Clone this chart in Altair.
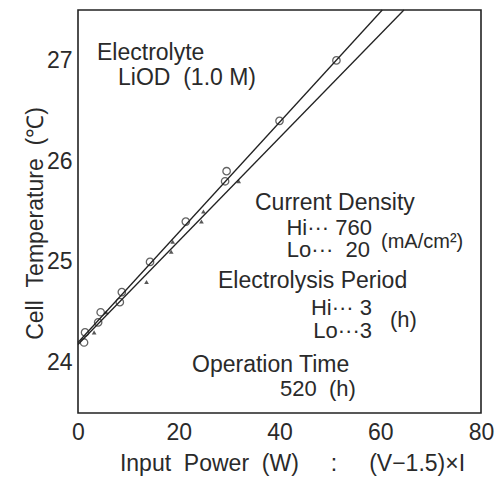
import altair as alt
import pandas as pd

# --- data ---
open_w = [1.2, 1.4, 4.0, 4.5, 8.3, 8.7, 14.3, 21.4, 29.2, 29.5, 40.0, 51.3]
open_t = [24.2, 24.3, 24.4, 24.5, 24.6, 24.7, 25.0, 25.4, 25.8, 25.9, 26.4, 27.0]
fill_w = [3.2, 5.6, 13.6, 18.5, 18.8, 24.5, 24.9, 31.9]
fill_t = [24.3, 24.5, 24.8, 25.1, 25.2, 25.4, 25.5, 25.8]
upper_w = [0.0, 60.4]
upper_t = [24.2, 27.5]
lower_w = [0.0, 64.7]
lower_t = [24.18, 27.5]
x_labels = [0, 20, 40, 60, 80]
y_labels = [24, 25, 26, 27]

X0, X1 = 0.0, 80.0
Y0, Y1 = 23.5, 27.5
W, H = 403, 403
FONT = "Liberation Sans"
INK = "#2a2a2a"
FS = 23

xs = alt.Scale(domain=[X0, X1], nice=False, zero=False)
ys = alt.Scale(domain=[Y0, Y1], nice=False, zero=False)

open_df = pd.DataFrame({"w": open_w, "t": open_t})
fill_df = pd.DataFrame({"w": fill_w, "t": fill_t})
lines_df = pd.DataFrame({
    "w": upper_w + lower_w,
    "t": upper_t + lower_t,
    "s": ["upper"] * 2 + ["lower"] * 2,
})

base_x = alt.X("w:Q", scale=xs, axis=alt.Axis(
    values=x_labels, ticks=False, domain=False, grid=False, format="d", labelFlush=False,
    labelFontSize=FS, labelFont=FONT, labelColor=INK, labelPadding=8,
    title="Input\u00a0\u00a0Power\u00a0\u00a0(W)\u00a0\u00a0\u00a0\u00a0\u00a0:\u00a0\u00a0\u00a0\u00a0\u00a0(V\u22121.5)\u00d7I",
    titleFont=FONT, titleFontSize=23, titleFontWeight="normal", titleColor=INK,
    titleX=214, titleY=57, titleAlign="center", titleBaseline="alphabetic",
))
base_y = alt.Y("t:Q", scale=ys, axis=alt.Axis(
    values=y_labels, ticks=False, domain=False, grid=False, format="d", labelFlush=False,
    labelFontSize=FS, labelFont=FONT, labelColor=INK, labelPadding=6,
    title="Cell\u00a0\u00a0Temperature\u00a0\u00a0(\u2103)",
    titleFont=FONT, titleFontSize=23, titleFontWeight="normal", titleColor=INK,
    titleX=-43, titleY=213, titleAngle=270, titleAlign="center", titleBaseline="middle",
))

lines = alt.Chart(lines_df).mark_line(color="#222", strokeWidth=1.3).encode(
    x=base_x, y=base_y, detail="s:N")
opens = alt.Chart(open_df).mark_point(shape="circle", size=55, filled=False,
                                      color="#222", strokeWidth=1.3).encode(
    x=alt.X("w:Q", scale=xs), y=alt.Y("t:Q", scale=ys))
fills = alt.Chart(fill_df).mark_point(shape="triangle-up", size=22, filled=True,
                                      color="#111").encode(
    x=alt.X("w:Q", scale=xs), y=alt.Y("t:Q", scale=ys))

AS = 22


def label(txt, x, y, align="left", size=AS):
    return alt.Chart(pd.DataFrame({"z": [0]})).mark_text(
        text=txt, align=align, baseline="alphabetic", font=FONT, fontSize=size, color=INK
    ).encode(x=alt.value(x), y=alt.value(y))


notes = [
    label("Electrolyte", 19, 50, size=23),
    label("LiOD\u00a0\u00a0(1.0 M)", 40, 75, size=23),
    label("Current Density", 177, 200, size=23),
    label("Hi\u00b7\u00b7\u00b7 760", 294, 225, "right"),
    label("Lo\u00b7\u00b7\u00b7\u00a0\u00a020", 292, 247, "right"),
    label("(mA/cm\u00b2)", 303, 238, size=20),
    label("Electrolysis Period", 140, 278, size=23),
    label("Hi\u00b7\u00b7\u00b7 3", 294, 305, "right"),
    label("Lo\u00b7\u00b7\u00b73", 294, 328, "right"),
    label("(h)", 312, 317),
    label("Operation Time", 114, 362, size=23),
    label("520\u00a0\u00a0(h)", 202, 386),
]

chart = alt.layer(lines, opens, fills, *notes).properties(
    width=W, height=H,
    autosize=alt.AutoSizeParams(type="none"),
    padding={"left": 78, "top": 10, "right": 20, "bottom": 67},
    background="white",
).configure_view(stroke="#222", strokeWidth=1.6)

chart.save("out.html", embed_options={"renderer": "svg", "actions": False})
